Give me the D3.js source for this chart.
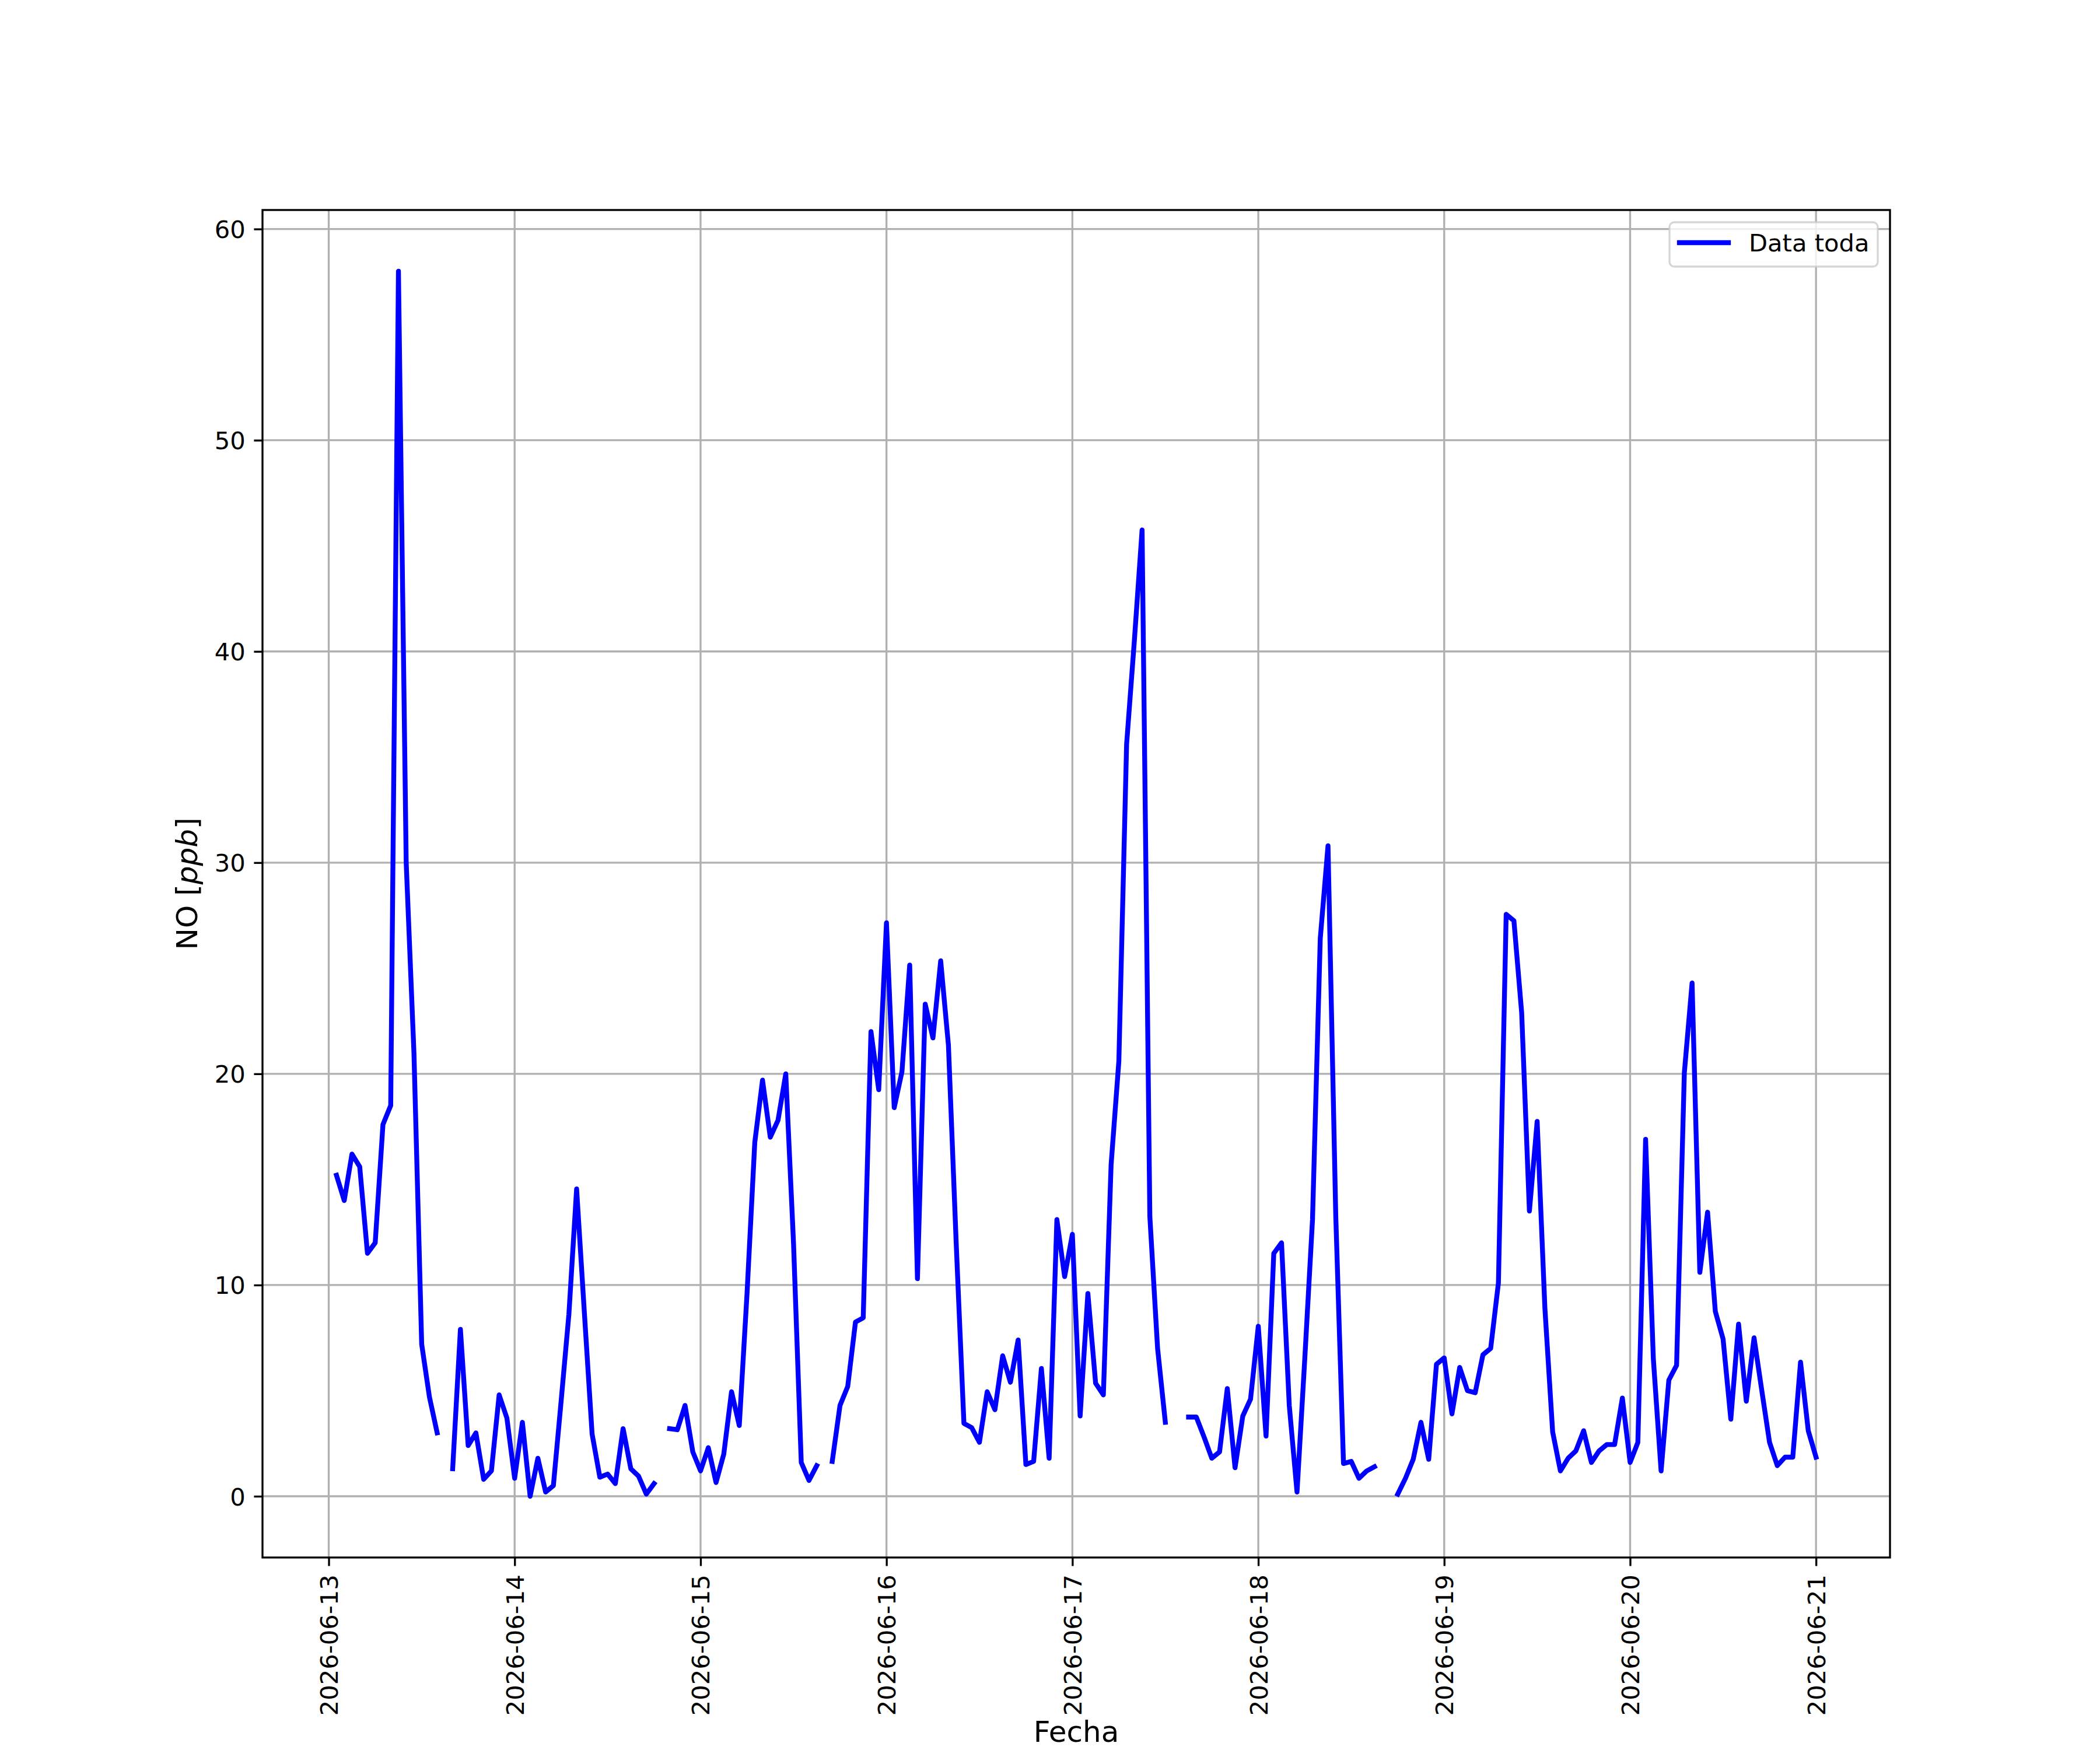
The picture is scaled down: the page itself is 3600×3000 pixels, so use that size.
<!DOCTYPE html>
<html>
<head>
<meta charset="utf-8">
<script src="https://cdn.jsdelivr.net/npm/d3@7/dist/d3.min.js"></script>
<style>
  html, body { margin: 0; padding: 0; background: #ffffff; }
  svg { display: block; }
  text { font-family: "DejaVu Sans", sans-serif; }
</style>
</head>
<body>
<svg id="chart" width="3600" height="3000"></svg>
<script>
// ---- DATA (hourly NO values, ppb; null = missing) ----
const seriesStart = "2026-06-13T01:00:00Z";
const seriesName = "Data toda";
const noDay1 = [15.2, 14.0, 16.2, 15.6, 11.5, 12.0, 17.6, 18.5, 58.0, 30.0, 21.0, 7.2, 4.7, 3.0, null, 1.3, 7.9, 2.4, 3.0, 0.8, 1.2, 4.8, 3.7, 0.85];
const noDay2 = [3.5, 0.0, 1.8, 0.2, 0.5, 4.5, 8.6, 14.55, 8.7, 2.95, 0.9, 1.05, 0.6, 3.2, 1.3, 0.95, 0.1, 0.6, null, 3.2, 3.15, 4.3, 2.1, 1.2];
const noDay3 = [2.3, 0.65, 2.0, 4.95, 3.35, 9.6, 16.75, 19.7, 17.0, 17.8, 20.0, 12.0, 1.6, 0.75, 1.45, null, 1.65, 4.3, 5.2, 8.25, 8.45, 22.0, 19.25, 27.15];
const noDay4 = [18.4, 20.1, 25.15, 10.3, 23.3, 21.7, 25.35, 21.35, 12.0, 3.45, 3.25, 2.55, 4.95, 4.1, 6.65, 5.4, 7.4, 1.5, 1.65, 6.05, 1.8, 13.1, 10.4, 12.4];
const noDay5 = [3.8, 9.6, 5.35, 4.8, 15.7, 20.6, 35.6, 40.5, 45.75, 13.25, 7.0, 3.5, null, null, 3.75, 3.75, 2.8, 1.8, 2.1, 5.1, 1.35, 3.8, 4.6, 8.05];
const noDay6 = [2.85, 11.5, 12.0, 4.3, 0.2, 6.5, 13.1, 26.4, 30.8, 13.3, 1.55, 1.65, 0.85, 1.2, 1.4, null, null, 0.1, 0.85, 1.75, 3.5, 1.75, 6.25, 6.55];
const noDay7 = [3.9, 6.1, 5.0, 4.9, 6.7, 7.0, 10.1, 27.55, 27.25, 22.9, 13.5, 17.75, 8.9, 3.05, 1.2, 1.8, 2.15, 3.1, 1.6, 2.15, 2.45, 2.45, 4.65, 1.6];
const noDay8 = [2.55, 16.9, 6.5, 1.2, 5.5, 6.2, 20.05, 24.3, 10.6, 13.45, 8.75, 7.45, 3.65, 8.15, 4.5, 7.5, 5.0, 2.55, 1.45, 1.85, 1.85, 6.35, 3.1, 1.85];
const xTickLabels = ["2026-06-13", "2026-06-14", "2026-06-15", "2026-06-16", "2026-06-17", "2026-06-18", "2026-06-19", "2026-06-20", "2026-06-21"];
const yTicks = [0, 10, 20, 30, 40, 50, 60];
const xLabel = "Fecha";

// ---- BUILD ----
const values = [].concat(noDay1, noDay2, noDay3, noDay4, noDay5, noDay6, noDay7, noDay8);
const t0 = new Date(seriesStart);
const data = values.map((v, i) => ({ t: d3.utcHour.offset(t0, i), v: v }));

const W = 3600, H = 3000;
const L = 450, R = 3240, T = 360, B = 2670;
const pt = 300 / 72;
const fs = 10 * pt;       // 41.67 px
const fsLabel = 12 * pt;  // 50 px
const tickLen = 3.5 * pt, tickPad = 3.5 * pt;
const thin = 0.8 * pt;

const svg = d3.select("#chart");

const tExt = d3.extent(data, d => d.t);
const tSpan = tExt[1] - tExt[0];
const x = d3.scaleUtc()
  .domain([new Date(+tExt[0] - 0.05 * tSpan), new Date(+tExt[1] + 0.05 * tSpan)])
  .range([L, R]);
const vExt = d3.extent(data.filter(d => d.v != null), d => d.v);
const vSpan = vExt[1] - vExt[0];
const y = d3.scaleLinear()
  .domain([vExt[0] - 0.05 * vSpan, vExt[1] + 0.05 * vSpan])
  .range([B, T]);

const parseDay = d3.utcParse("%Y-%m-%d");
const xTickDates = xTickLabels.map(parseDay);

// grid
const grid = svg.append("g");
grid.selectAll("line.gx").data(xTickDates).enter().append("line")
  .attr("x1", d => x(d)).attr("x2", d => x(d)).attr("y1", T).attr("y2", B)
  .attr("stroke", "#b0b0b0").attr("stroke-width", thin);
grid.selectAll("line.gy").data(yTicks).enter().append("line")
  .attr("x1", L).attr("x2", R).attr("y1", d => y(d)).attr("y2", d => y(d))
  .attr("stroke", "#b0b0b0").attr("stroke-width", thin);

// line
const lw = 2 * pt;
const line = d3.line().defined(d => d.v != null).x(d => x(d.t)).y(d => y(d.v));
svg.append("path").datum(data)
  .attr("d", line)
  .attr("fill", "none")
  .attr("stroke", "#0000ff")
  .attr("stroke-width", lw)
  .attr("stroke-linejoin", "round")
  .attr("stroke-linecap", "square");

// spines
svg.append("rect").attr("x", L).attr("y", T).attr("width", R - L).attr("height", B - T)
  .attr("fill", "none").attr("stroke", "#000").attr("stroke-width", thin);

// axes
const fmt = d3.utcFormat("%Y-%m-%d");
const gx = svg.append("g").attr("transform", `translate(0,${B})`)
  .call(d3.axisBottom(x).tickValues(xTickDates).tickFormat(fmt).tickSize(tickLen).tickPadding(tickPad));
gx.select(".domain").remove();
gx.selectAll(".tick line").attr("stroke", "#000").attr("stroke-width", thin);
gx.selectAll(".tick text")
  .attr("font-family", "DejaVu Sans").attr("font-size", fs).attr("fill", "#000")
  .attr("transform", "rotate(-90)")
  .attr("text-anchor", "end")
  .attr("x", -(tickLen + tickPad)).attr("y", 0).attr("dy", "0.36em");

const gy = svg.append("g").attr("transform", `translate(${L},0)`)
  .call(d3.axisLeft(y).tickValues(yTicks).tickFormat(d3.format("d")).tickSize(tickLen).tickPadding(tickPad));
gy.select(".domain").remove();
gy.selectAll(".tick line").attr("stroke", "#000").attr("stroke-width", thin);
gy.selectAll(".tick text")
  .attr("font-family", "DejaVu Sans").attr("font-size", fs).attr("fill", "#000")
  .attr("dy", "0.36em");

// axis labels
svg.append("text").attr("x", (L + R) / 2).attr("y", 2986)
  .attr("text-anchor", "middle").attr("font-size", fsLabel).attr("fill", "#000")
  .text(xLabel);
const yl = svg.append("text").attr("transform", `translate(338,${(T + B) / 2}) rotate(-90)`)
  .attr("text-anchor", "middle").attr("font-size", fsLabel).attr("fill", "#000");
yl.append("tspan").text("NO [");
yl.append("tspan").attr("font-style", "italic").text("ppb");
yl.append("tspan").text("]");

// legend
const lg = svg.append("g");
lg.append("rect").attr("x", 2862).attr("y", 381).attr("width", 357).attr("height", 76)
  .attr("rx", 8).attr("ry", 8)
  .attr("fill", "#ffffff").attr("fill-opacity", 0.8)
  .attr("stroke", "#cccccc").attr("stroke-opacity", 0.8).attr("stroke-width", thin);
lg.append("line").attr("x1", 2879).attr("x2", 2963).attr("y1", 416).attr("y2", 416)
  .attr("stroke", "#0000ff").attr("stroke-width", lw).attr("stroke-linecap", "square");
lg.append("text").attr("x", 2998).attr("y", 431).attr("font-size", fs).attr("fill", "#000")
  .text(seriesName);
</script>
</body>
</html>
